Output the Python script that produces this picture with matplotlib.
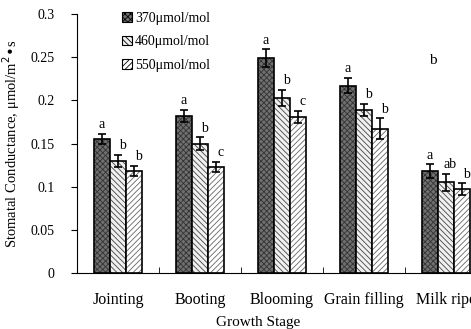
import numpy as np
import matplotlib
matplotlib.use('Agg')
import matplotlib.pyplot as plt
from matplotlib.patches import Patch

# data
stages = ['Jointing', 'Booting', 'Blooming', 'Grain filling', 'Milk ripe']
series = ['370μmol/mol', '460μmol/mol', '550μmol/mol']
c370 = [0.155, 0.182, 0.249, 0.217, 0.118]
c460 = [0.130, 0.150, 0.203, 0.189, 0.105]
c550 = [0.118, 0.123, 0.181, 0.167, 0.097]
e370 = [0.006, 0.007, 0.010, 0.009, 0.008]
e460 = [0.007, 0.007, 0.009, 0.007, 0.010]
e550 = [0.006, 0.006, 0.007, 0.012, 0.007]
l370 = ['a', 'a', 'a', 'a', 'a']
l460 = ['b', 'b', 'b', 'b', 'ab']
l550 = ['b', 'c', 'c', 'b', 'b']

plt.rcParams['font.family'] = ['Liberation Serif', 'DejaVu Serif']
plt.rcParams['hatch.linewidth'] = 0.6

fig = plt.figure(figsize=(4.71, 3.29), dpi=100)
ax = fig.add_axes([0.1635, 0.1702, 0.8705, 0.7872])

x = np.arange(len(stages))
w = 0.195
styles = [('#707070', 'xxxxxx', '#333333'),
          ('#f0f0f0', '\\\\\\\\\\\\', '#444444'),
          ('white', '//////', '#666666')]
vals = [c370, c460, c550]
errs = [e370, e460, e550]
labs = [l370, l460, l550]
handles = []
for i in range(3):
    fc, hat, hc = styles[i]
    pos = x + (i - 1) * w
    ax.bar(pos, vals[i], w, color=fc, hatch=hat, edgecolor=hc, linewidth=0)
    ax.bar(pos, vals[i], w, fill=False, edgecolor='black', linewidth=1.2)
    ax.errorbar(pos, vals[i], yerr=errs[i], fmt='none', ecolor='black',
                elinewidth=1.2, capsize=3, capthick=1.2)
    dx = 0 if i == 0 else 0.05
    for p, v, e, t in zip(pos, vals[i], errs[i], labs[i]):
        ax.text(p + dx, v + e + 0.003, t, ha='center', va='bottom', fontsize=10)
    handles.append(Patch(facecolor=fc, hatch=hat, edgecolor='black', linewidth=0.8))

ax.set_xlim(-0.5, 4.5)
ax.set_ylim(0, 0.3)
ax.set_yticks([0, 0.05, 0.1, 0.15, 0.2, 0.25, 0.3])
ax.set_yticklabels(['0', '0.05', '0.1', '0.15', '0.2', '0.25', '0.3'], fontsize=10)
ax.set_xticks(x)
ax.set_xticklabels(stages, fontsize=11.5)
ax.tick_params(axis='x', length=0, pad=14)
ax.set_xticks(np.arange(0.5, 4.5, 1), minor=True)
ax.tick_params(axis='x', which='minor', direction='in', length=4)
ax.tick_params(axis='y', direction='out', length=4, pad=12)
ax.spines['top'].set_visible(False)
ax.spines['right'].set_visible(False)

ax.set_ylabel('Stomatal Conductance, μmol/m$^2$•s', fontsize=10.5, labelpad=6)
ax.set_xlabel('Growth Stage', fontsize=11, va='center')
ax.xaxis.set_label_coords((258 - 77) / 410, -49 / 259)

fig.legend(handles, series, loc='upper left', bbox_to_anchor=(0.245, 0.985),
           frameon=False, fontsize=10, handlelength=0.7, handleheight=0.7,
           handletextpad=0.2, labelspacing=0.75, borderpad=0)
fig.text(433 / 471, 1 - 60 / 329, 'b', fontsize=11, ha='center', va='center')

fig.savefig('out.png', dpi=100)
